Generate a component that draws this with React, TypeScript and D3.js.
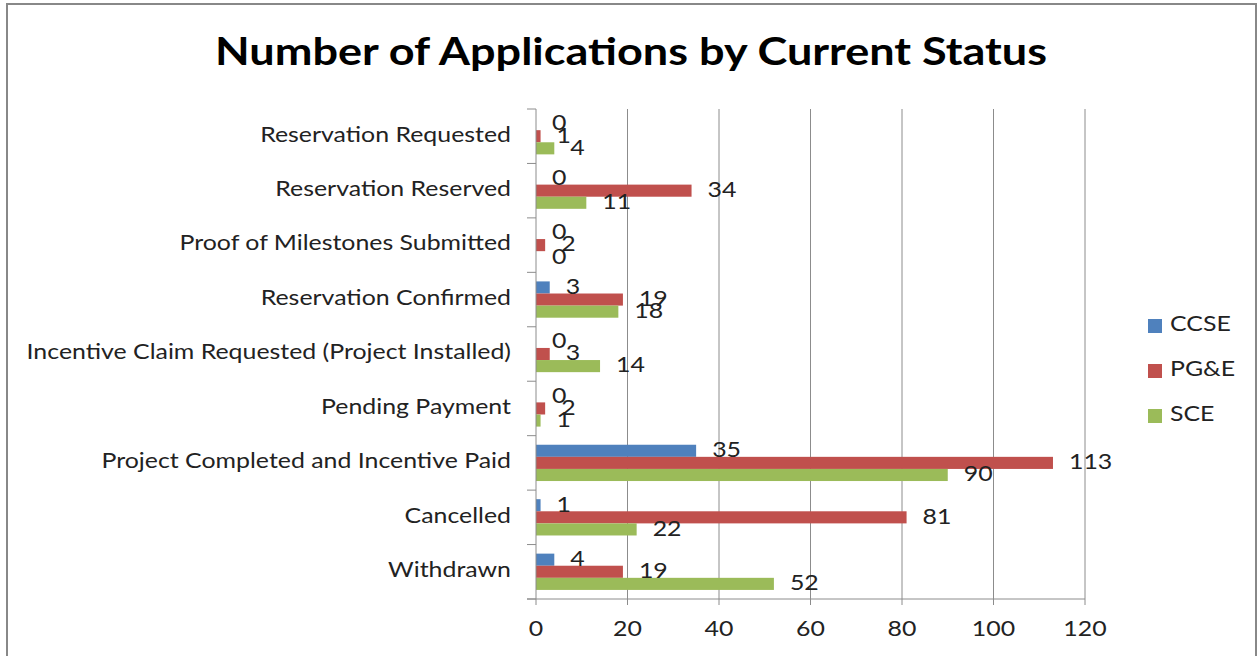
import { useEffect, useRef } from 'react';
import * as d3 from 'd3';

const categories = [
  'Reservation Requested',
  'Reservation Reserved',
  'Proof of Milestones Submitted',
  'Reservation Confirmed',
  'Incentive Claim Requested (Project Installed)',
  'Pending Payment',
  'Project Completed and Incentive Paid',
  'Cancelled',
  'Withdrawn',
];
const seriesNames = ['CCSE', 'PG&E', 'SCE'];
const ccse = [0, 0, 0, 3, 0, 0, 35, 1, 4];
const pge = [1, 34, 2, 19, 3, 2, 113, 81, 19];
const sce = [4, 11, 0, 18, 14, 1, 90, 22, 52];
const xTicks = [0, 20, 40, 60, 80, 100, 120];
const colors = ['#4F81BD', '#C0504D', '#9BBB59'];

const FONT = 'Lato, "Open Sans", sans-serif';
// the original screenshot is stretched sideways, so text is widened to match
const SX = 1.185;
const at = (x: number, y: number) => `translate(${x},${y}) scale(${SX},1)`;

const App = () => {
  const svgRef = useRef<SVGSVGElement>(null);

  useEffect(() => {
    const svg = d3.select(svgRef.current);
    svg.selectAll('*').remove();

    const values = [ccse, pge, sce];
    const x = d3.scaleLinear().domain([0, 120]).range([536, 1085]);
    const y = d3.scaleBand().domain(categories).range([109, 599]);
    const inner = d3.scaleBand().domain(seriesNames).range([0, y.bandwidth()]).paddingOuter(0.75);

    // chart frame
    svg.append('rect')
      .attr('x', 7).attr('y', 4).attr('width', 1249).attr('height', 670)
      .attr('fill', '#fff').attr('stroke', '#888').attr('stroke-width', 2);

    svg.append('text')
      .attr('transform', at(631, 65))
      .attr('text-anchor', 'middle')
      .attr('font-family', FONT).attr('font-weight', 'bold').attr('font-size', 38)
      .attr('fill', '#000')
      .text('Number of Applications by Current Status');

    // gridlines
    svg.append('g').selectAll('line')
      .data(xTicks.slice(1))
      .enter().append('line')
      .attr('x1', d => x(d)).attr('x2', d => x(d))
      .attr('y1', 109).attr('y2', 605)
      .attr('stroke', '#8c8c8c').attr('stroke-width', 1);

    // bars
    seriesNames.forEach((s, si) => {
      const g = svg.append('g');
      g.selectAll('rect')
        .data(values[si])
        .enter().append('rect')
        .attr('x', x(0))
        .attr('y', (_, i) => y(categories[i])! + inner(s)!)
        .attr('width', d => x(d) - x(0))
        .attr('height', inner.bandwidth())
        .attr('fill', colors[si]);
    });

    // axes
    svg.append('line')
      .attr('x1', x(0)).attr('x2', x(0)).attr('y1', 109).attr('y2', 605)
      .attr('stroke', '#8c8c8c');
    svg.append('line')
      .attr('x1', 527).attr('x2', x(120)).attr('y1', 599).attr('y2', 599)
      .attr('stroke', '#8c8c8c');
    const bounds = categories.map(c => y(c)!).concat([599]);
    svg.append('g').selectAll('line')
      .data(bounds)
      .enter().append('line')
      .attr('x1', 527).attr('x2', x(0))
      .attr('y1', d => d).attr('y2', d => d)
      .attr('stroke', '#8c8c8c');

    // x tick labels
    svg.append('g').selectAll('text')
      .data(xTicks)
      .enter().append('text')
      .attr('transform', d => at(x(d), 631))
      .attr('text-anchor', 'middle').attr('dominant-baseline', 'middle')
      .attr('font-family', FONT).attr('font-size', 21).attr('fill', '#222')
      .text(d => d);

    // category labels
    svg.append('g').selectAll('text')
      .data(categories)
      .enter().append('text')
      .attr('transform', d => at(511, y(d)! + y.bandwidth() / 2))
      .attr('text-anchor', 'end').attr('dominant-baseline', 'middle')
      .attr('font-family', FONT).attr('font-size', 21).attr('fill', '#222')
      .text(d => d);

    // data labels
    seriesNames.forEach((s, si) => {
      svg.append('g').selectAll('text')
        .data(values[si])
        .enter().append('text')
        .attr('transform', (d, i) =>
          at(x(d) + 16, y(categories[i])! + inner(s)! + inner.bandwidth() / 2 + 1))
        .attr('dominant-baseline', 'middle')
        .attr('font-family', FONT).attr('font-size', 21).attr('fill', '#222')
        .text(d => d);
    });

    // legend
    const legend = svg.append('g');
    seriesNames.forEach((s, si) => {
      const cy = 326 + si * 45;
      legend.append('rect')
        .attr('x', 1148).attr('y', cy - 7).attr('width', 14).attr('height', 14)
        .attr('fill', colors[si]);
      legend.append('text')
        .attr('transform', at(1170, cy))
        .attr('dominant-baseline', 'middle')
        .attr('font-family', FONT).attr('font-size', 21).attr('fill', '#222')
        .text(s);
    });
  }, []);

  return (
    <svg
      ref={svgRef}
      width={1259}
      height={656}
      style={{ position: 'absolute', left: 0, top: 0, display: 'block' }}
    ></svg>
  );
};

export default App;
